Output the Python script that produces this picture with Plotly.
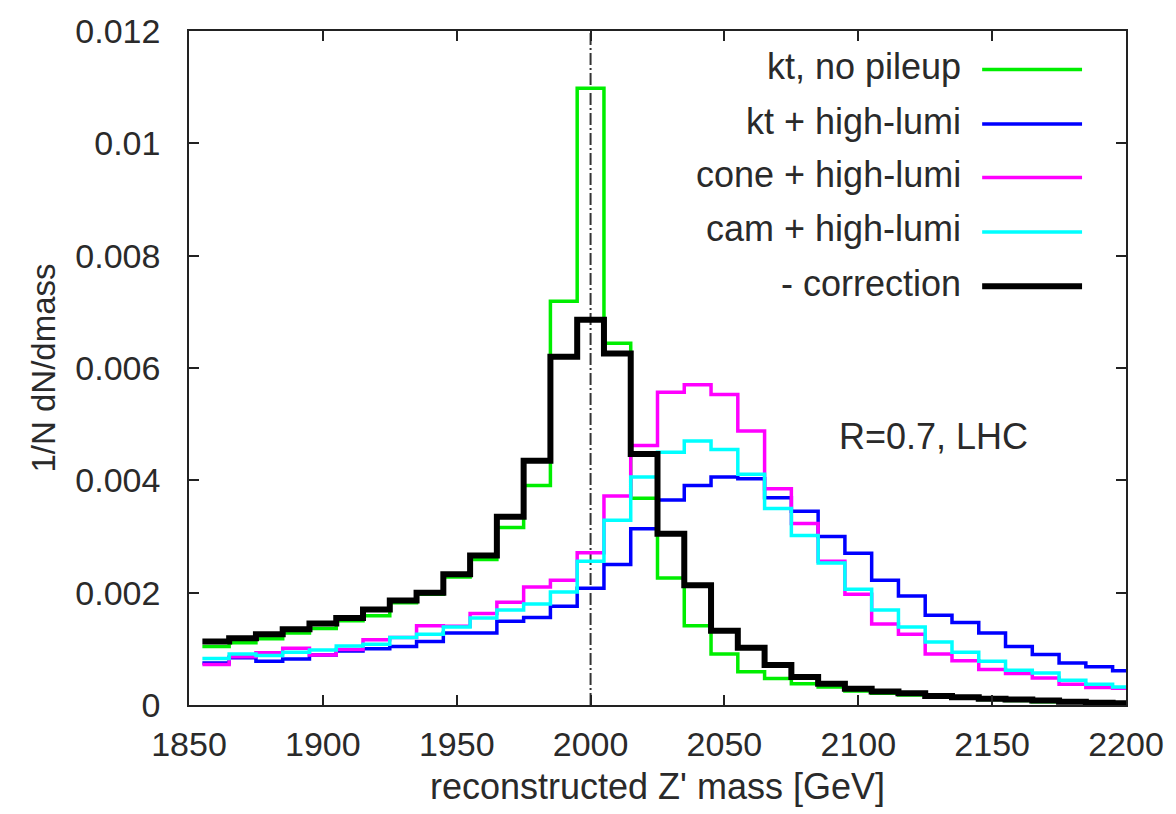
import plotly.graph_objects as go

# ---------------- data ----------------
bin_width = 10
bin_centers = list(range(1860, 2201, 10))  # 35 bins, 1855..2205

kt_no_pileup = [0.00104, 0.00111, 0.00118, 0.00128, 0.00136, 0.00150, 0.00159, 0.00182, 0.00197, 0.00228,
                0.00259, 0.00316, 0.00391, 0.00719, 0.01098, 0.00644, 0.00368, 0.00226, 0.00141, 0.00091,
                0.00059, 0.00047, 0.00038, 0.00032, 0.00025, 0.00021, 0.00018, 0.00014, 0.00012, 0.00010,
                0.00008, 0.00006, 0.00005, 0.00004, 0.00003]

kt_high_lumi = [0.00075, 0.00084, 0.00078, 0.00082, 0.00089, 0.00096, 0.00100, 0.00104, 0.00113, 0.00128,
                0.00128, 0.00149, 0.00156, 0.00176, 0.00208, 0.00250, 0.00314, 0.00365, 0.00391, 0.00406,
                0.00403, 0.00369, 0.00345, 0.00300, 0.00270, 0.00222, 0.00194, 0.00160, 0.00147, 0.00128,
                0.00104, 0.00090, 0.00075, 0.00068, 0.00061]

cone_high_lumi = [0.00072, 0.00086, 0.00093, 0.00101, 0.00089, 0.00099, 0.00116, 0.00120, 0.00141, 0.00140,
                  0.00163, 0.00183, 0.00210, 0.00222, 0.00271, 0.00372, 0.00462, 0.00557, 0.00570, 0.00553,
                  0.00488, 0.00385, 0.00323, 0.00256, 0.00197, 0.00144, 0.00126, 0.00091, 0.00079, 0.00063,
                  0.00056, 0.00048, 0.00037, 0.00031, 0.00030]

cam_high_lumi = [0.00083, 0.00091, 0.00088, 0.00094, 0.00098, 0.00105, 0.00108, 0.00120, 0.00126, 0.00139,
                 0.00155, 0.00169, 0.00180, 0.00201, 0.00256, 0.00329, 0.00406, 0.00450, 0.00470, 0.00455,
                 0.00411, 0.00350, 0.00302, 0.00253, 0.00206, 0.00169, 0.00139, 0.00112, 0.00094, 0.00078,
                 0.00062, 0.00057, 0.00044, 0.00037, 0.00032]

correction = [0.00113, 0.00119, 0.00126, 0.00135, 0.00145, 0.00155, 0.00170, 0.00186, 0.00200, 0.00233,
              0.00266, 0.00335, 0.00435, 0.00620, 0.00686, 0.00626, 0.00447, 0.00305, 0.00213, 0.00132,
              0.00102, 0.00071, 0.00050, 0.00038, 0.00029, 0.00024, 0.00021, 0.00016, 0.00014, 0.00011,
              0.00010, 0.00008, 0.00006, 0.00004, 0.00003]

series_names = ["kt, no pileup", "kt + high-lumi", "cone + high-lumi", "cam + high-lumi", "- correction"]
series_values = [kt_no_pileup, kt_high_lumi, cone_high_lumi, cam_high_lumi, correction]
series_colors = ["#00ee00", "#0000ff", "#ff00ff", "#00ffff", "#000000"]
series_widths = [3.5, 3.5, 3.5, 3.5, 6]

x_ticks = [1850, 1900, 1950, 2000, 2050, 2100, 2150, 2200]
y_ticks = [0, 0.002, 0.004, 0.006, 0.008, 0.010, 0.012]
y_tick_text = ["0", "0.002", "0.004", "0.006", "0.008", "0.01", "0.012"]
nominal_mass = 2000
annotation_text = "R=0.7, LHC"

FONT = "Liberation Sans, Arial, Helvetica, sans-serif"
TXT = "#2a2a2a"
FS = 34

# ---------------- figure ----------------
fig = go.Figure()

edges = [c - bin_width / 2 for c in bin_centers] + [bin_centers[-1] + bin_width / 2]

for name, vals, col, w in zip(series_names, series_values, series_colors, series_widths):
    fig.add_trace(go.Scatter(
        x=edges, y=vals + [vals[-1]], mode="lines", name=name,
        line=dict(color=col, width=w, shape="hv"), showlegend=False,
    ))

# vertical dash-dot line at nominal mass
fig.add_shape(type="line", xref="x", yref="paper", x0=nominal_mass, x1=nominal_mass, y0=0, y1=1,
              line=dict(color="#333333", width=2, dash="12px,3px,2px,3px"), layer="below")

# gnuplot-style legend: text right-aligned, sample line at right
leg_y = [63, 118, 172, 227, 282]  # pixel rows
plot_top, plot_bottom = 24, 705
plot_left, plot_right = 189, 1127
def py2paper(py):
    return (plot_bottom - py) / (plot_bottom - plot_top)
def px2paper(px):
    return (px - plot_left) / (plot_right - plot_left)

for name, col, w, py in zip(series_names, series_values and series_colors, series_widths, leg_y):
    fig.add_annotation(x=px2paper(964), y=py2paper(py - 3), xref="paper", yref="paper",
                       text=name, showarrow=False, xanchor="right", yanchor="middle",
                       font=dict(family=FONT, size=36, color=TXT))
    fig.add_shape(type="line", xref="paper", yref="paper",
                  x0=px2paper(983), x1=px2paper(1083), y0=py2paper(py), y1=py2paper(py),
                  line=dict(color=col, width=w))

fig.add_annotation(x=px2paper(838), y=py2paper(434), xref="paper", yref="paper",
                   text=annotation_text, showarrow=False, xanchor="left", yanchor="middle",
                   font=dict(family=FONT, size=36, color=TXT))

fig.update_layout(
    width=1176, height=814,
    margin=dict(l=plot_left, r=1176 - plot_right, t=plot_top, b=814 - plot_bottom),
    paper_bgcolor="white", plot_bgcolor="white",
    font=dict(family=FONT, size=FS, color=TXT),
    showlegend=False,
)
fig.update_xaxes(
    range=[1850, 2200], tickvals=x_ticks, ticks="inside", ticklen=10, tickwidth=1.5, tickcolor="#222",
    showline=True, linecolor="#222", linewidth=1.5, mirror="ticks", showgrid=False, zeroline=False,
    title=dict(text="reconstructed Z' mass [GeV]", font=dict(size=36), standoff=12),
    tickfont=dict(size=FS), ticklabelstandoff=8,
)
fig.update_yaxes(
    range=[0, 0.012], tickvals=y_ticks, ticktext=y_tick_text, ticks="inside", ticklen=10, tickwidth=1.5,
    tickcolor="#222", showline=True, linecolor="#222", linewidth=1.5, mirror="ticks", showgrid=False,
    zeroline=False,
    title=dict(text="1/N dN/dmass", font=dict(size=33), standoff=10),
    tickfont=dict(size=FS), ticklabelstandoff=20,
)

fig.write_html("out.html")
